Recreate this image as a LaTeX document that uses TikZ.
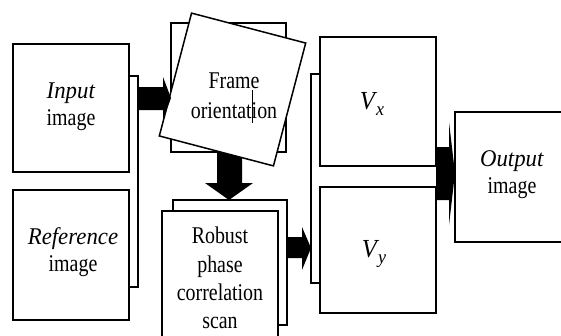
\documentclass[tikz,border=0pt]{standalone}
\usepackage{fontspec}
\setmainfont{Liberation Serif}[UprightFeatures={FakeStretch=0.83},ItalicFeatures={FakeStretch=0.95}]
\begin{document}
\begin{tikzpicture}[x=1pt,y=-1pt,
  box/.style={draw, line width=1.5pt, fill=white, inner sep=0pt, outer sep=0pt},
  bracket/.style={draw, line width=2.2pt},
  label/.style={align=center, inner sep=0pt, font=\fontsize{24}{27}\selectfont},
  vlabel/.style={inner sep=0pt, font=\fontsize{26}{28}\selectfont}]
\clip (0,0) rectangle (561,335);
\useasboundingbox (0,0) rectangle (561,335);
\fill[white] (0,0) rectangle (561,335);
% input boxes
\node[box, minimum width=116pt, minimum height=128pt] (in) at (71,108) {};
\node[box, minimum width=116pt, minimum height=130pt] (ref) at (71,255) {};
\node[label] (intext) at (71,107) {\textit{Input}\\image};
\node[label] (reftext) at (73,252) {\textit{Reference}\\image};
% bracket joining inputs
\draw[bracket] (in.east |- 0,76) -- (138,76) -- (138,287) -- (ref.east |- 0,287);
% frame orientation
\node[box, minimum width=115pt, minimum height=129pt] (frameback) at (228.5,87.5) {};
% down arrow (under front frame)
\fill (217,150) -- (242,150) -- (242,183) -- (253,183) -- (229,200) -- (205,183) -- (217,183) -- cycle;
\node[box, minimum width=118pt, minimum height=127pt, rotate=-14.7] (frame) at (232.5,89.5) {};
\node[label, font=\fontsize{24}{30}\selectfont] (frametext) at (234,96) {Frame\\orientation};
\draw[line width=1pt] (frametext.center) ++(18,-6) coordinate (c1) -- ++(0,33) coordinate (c2);
% input arrow
\coordinate (ia) at (138,98);
\fill (ia) ++(0,-11) -- ++(25,0) -- ++(0,-10) -- ++(8,21) -- ++(-8,22) -- ++(0,-10) -- ++(-25,0) -- cycle;
% robust phase correlation scan
\node[box, minimum width=114pt, minimum height=125pt] (robback) at (230,262.5) {};
\node[box, minimum width=116pt, minimum height=139pt] (rob) at (220,280.5) {};
\node[label, font=\fontsize{24}{28.3}\selectfont] (robtext) at (220,278) {Robust\\phase\\correlation\\scan};
% robust arrow
\fill (robback.east |- 0,237) -- (302,237) -- (302,227) -- (311,248) -- (302,270) -- (302,258) -- (robback.east |- 0,258) -- cycle;
% V boxes
\node[box, minimum width=116pt, minimum height=129pt] (vx) at (378,101.5) {};
\node[box, minimum width=116pt, minimum height=126pt] (vy) at (378,250) {};
\node[vlabel] (vxtext) at (372,104) {\textit{V}\kern-1pt\raisebox{-6pt}{\fontsize{19}{19}\selectfont\textit{x}}};
\node[vlabel] (vytext) at (374,254) {\textit{V}\kern-1pt\raisebox{-6pt}{\fontsize{19}{19}\selectfont\textit{y}}};
\draw[bracket] (vx.west |- 0,74) -- (311,74) -- (311,283) -- (vy.west |- 0,283);
% output
\node[box, minimum width=120pt, minimum height=130pt] (out) at (515,177) {};
\node[label] (outtext) at (512,175) {\textit{Output}\\image};
\fill (vx.east |- 0,147) -- (449,147) -- (449,122) -- (out.west |- 0,173) -- (449,225) -- (449,200) -- (vx.east |- 0,200) -- cycle;
\end{tikzpicture}
\end{document}
